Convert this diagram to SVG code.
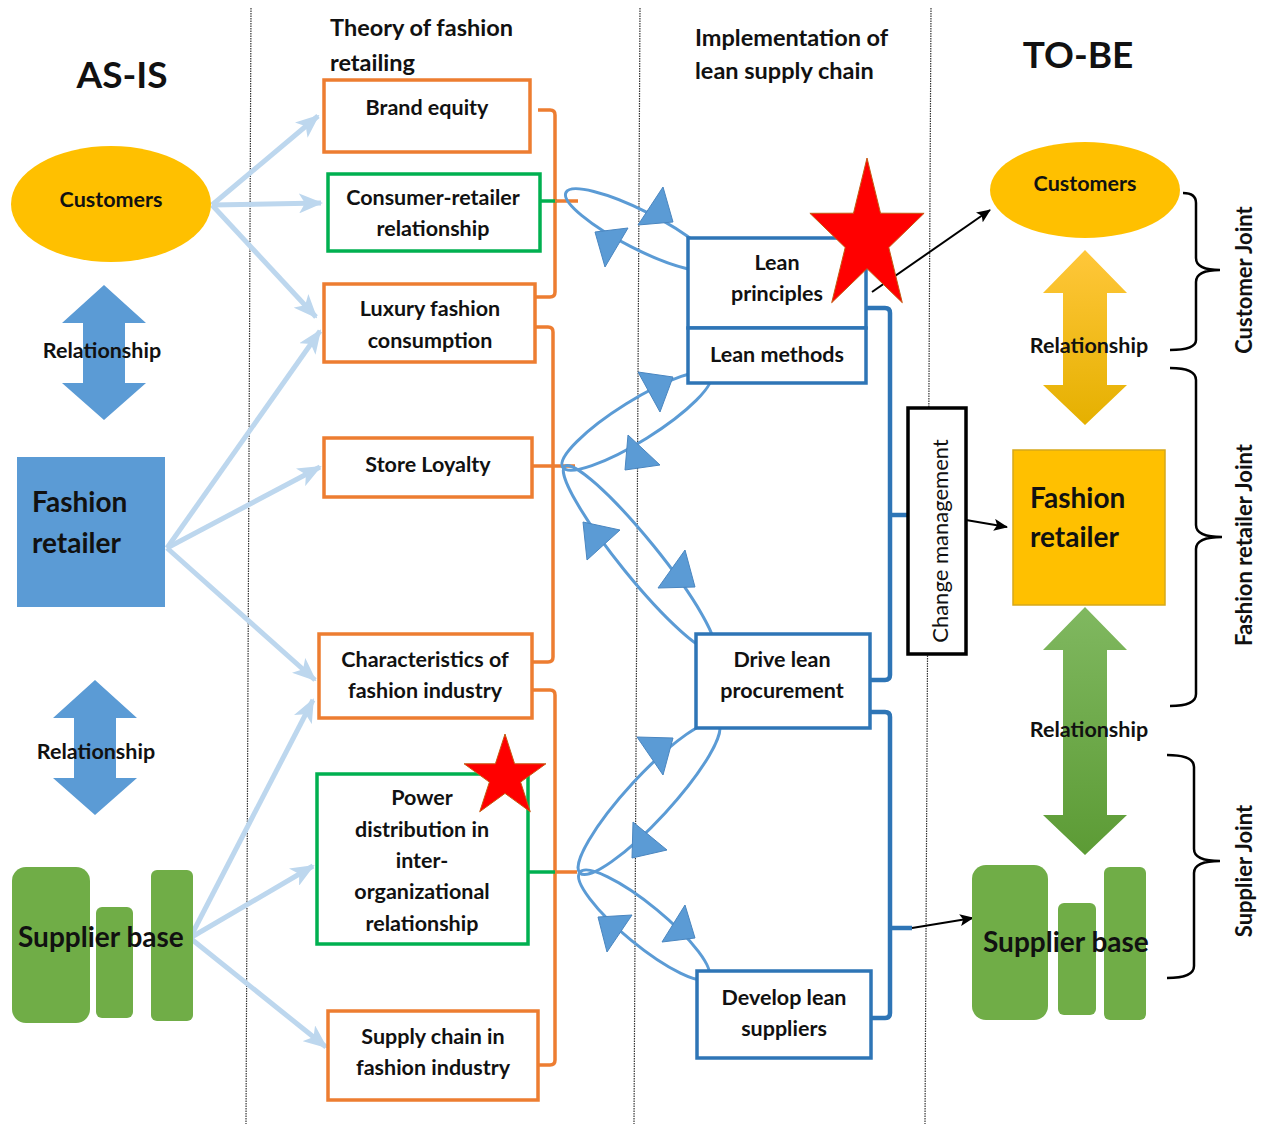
<svg xmlns="http://www.w3.org/2000/svg" width="1266" height="1124" viewBox="0 0 1266 1124">
  <style>
    text { font-family: Lato, "Liberation Sans", sans-serif; fill: #111; }
    .hdr { font-size: 23.5px; font-weight: bold; }
    .title { font-size: 37px; font-weight: bold; text-anchor: middle; }
    .lbl { font-size: 21.5px; font-weight: bold; text-anchor: middle; }
    .big { font-size: 28px; font-weight: bold; }
    .joint { font-size: 22px; font-weight: bold; text-anchor: middle; }
    .obox { fill: #fff; stroke: #ED7D31; stroke-width: 3.5; }
    .gbox { fill: #fff; stroke: #00B050; stroke-width: 3.5; }
    .bbox { fill: #fff; stroke: #2E75B6; stroke-width: 3.5; }
    .sep { stroke: #333; stroke-width: 1.2; stroke-dasharray: 1.5 1; fill: none; }
    .feed { stroke: #BDD7EE; stroke-width: 5; fill: none; marker-end: url(#lb); }
    .obr { stroke: #ED7D31; stroke-width: 3.5; fill: none; }
    .gln { stroke: #00B050; stroke-width: 3.5; fill: none; }
    .bbr { stroke: #2E75B6; stroke-width: 4.5; fill: none; }
    .loop { stroke: #5B9BD5; stroke-width: 3; fill: none; }
    .tri { fill: #5B9BD5; stroke: #4A86C0; stroke-width: 1; }
    .blk { stroke: #000; stroke-width: 2; fill: none; marker-end: url(#ba); }
    .brace { stroke: #000; stroke-width: 2.5; fill: none; }
    .star { fill: #FF0000; stroke: #C55A11; stroke-width: 1; }
    .sup { fill: #70AD47; }
  </style>
  <defs>
    <marker id="lb" markerUnits="userSpaceOnUse" markerWidth="24" markerHeight="20" viewBox="0 0 24 20" refX="22" refY="10" orient="auto">
      <path d="M0,0 L24,10 L0,20 L6,10 Z" fill="#BDD7EE"/>
    </marker>
    <marker id="ba" markerUnits="userSpaceOnUse" markerWidth="14" markerHeight="12" viewBox="0 0 14 12" refX="13" refY="6" orient="auto">
      <path d="M0,0 L14,6 L0,12 L3,6 Z" fill="#000"/>
    </marker>
    <linearGradient id="yg" x1="0" y1="0" x2="0" y2="1">
      <stop offset="0" stop-color="#FFC73A"/>
      <stop offset="1" stop-color="#E5B000"/>
    </linearGradient>
    <linearGradient id="gg" x1="0" y1="0" x2="0" y2="1">
      <stop offset="0" stop-color="#80B860"/>
      <stop offset="1" stop-color="#5C9B35"/>
    </linearGradient>
  </defs>

  <!-- column separators -->
  <g id="separators">
    <line class="sep" x1="251" y1="8" x2="246" y2="1124"/>
    <line class="sep" x1="640" y1="8" x2="634" y2="1124"/>
    <line class="sep" x1="931" y1="8" x2="925" y2="1124"/>
  </g>

  <!-- column headings -->
  <g id="headings">
    <text class="title" x="122" y="88">AS-IS</text>
    <text class="hdr" x="330" y="36">Theory of fashion</text>
    <text class="hdr" x="330" y="71">retailing</text>
    <text class="hdr" x="695" y="46">Implementation of</text>
    <text class="hdr" x="695" y="79">lean supply chain</text>
    <text class="title" x="1078" y="68">TO-BE</text>
  </g>

  <!-- connectors -->
  <g id="connectors">
    <!-- AS-IS actors feeding the theory boxes -->
    <path class="feed" d="M212,205 L318,116"/>
    <path class="feed" d="M212,205 L321,203"/>
    <path class="feed" d="M212,205 L316,317"/>
    <path class="feed" d="M167,548 L320,331"/>
    <path class="feed" d="M167,548 L320,467"/>
    <path class="feed" d="M167,548 L315,680"/>
    <path class="feed" d="M190,938 L313,700"/>
    <path class="feed" d="M190,938 L313,866"/>
    <path class="feed" d="M190,938 L326,1047"/>

    <!-- theory group brackets -->
    <path class="obr" d="M538,110 H550 Q555,110 555,115 V292 Q555,297 550,297 H536"/>
    <path class="gln" d="M540,201 H557"/>
    <path class="obr" d="M555,201 H578"/>
    <path class="obr" d="M535,327 H548 Q553,327 553,332 V657 Q553,662 548,662 H532"/>
    <path class="obr" d="M532,466 H575"/>
    <path class="obr" d="M532,690 H550 Q555,690 555,695 V1060 Q555,1065 550,1065 H538"/>
    <path class="gln" d="M528,872 H555"/>
    <path class="obr" d="M555,872 H577"/>

    <!-- lean group brackets -->
    <path class="bbr" d="M866,308 H885 Q890,308 890,313 V675 Q890,680 885,680 H870"/>
    <path class="bbr" d="M890,515 H908"/>
    <path class="bbr" d="M870,712 H885 Q890,712 890,717 V1013 Q890,1018 885,1018 H871"/>
    <path class="bbr" d="M890,928 H912"/>

    <!-- feedback loops -->
    <ellipse class="loop" cx="640" cy="230" rx="83" ry="19" transform="rotate(26.9 640 230)"/>
    <ellipse class="loop" cx="636.5" cy="421" rx="87" ry="20" transform="rotate(-32 636.5 421)"/>
    <ellipse class="loop" cx="639" cy="558" rx="118" ry="19" transform="rotate(51 639 558)"/>
    <ellipse class="loop" cx="649" cy="798" rx="102" ry="22" transform="rotate(-47.4 649 798)"/>
    <ellipse class="loop" cx="644" cy="925" rx="83" ry="20" transform="rotate(39.4 644 925)"/>
    <polygon class="tri" points="663,187 638,225 673,222"/>
    <polygon class="tri" points="595,232 628,228 605,267"/>
    <polygon class="tri" points="638,372 673,377 660,412"/>
    <polygon class="tri" points="628,435 660,465 625,470"/>
    <polygon class="tri" points="583,522 620,530 587,560"/>
    <polygon class="tri" points="685,550 658,588 695,587"/>
    <polygon class="tri" points="637,737 673,738 663,775"/>
    <polygon class="tri" points="633,822 667,850 632,858"/>
    <polygon class="tri" points="598,917 632,915 607,952"/>
    <polygon class="tri" points="685,905 662,942 695,938"/>

    <!-- links into TO-BE -->
    <path class="blk" d="M872,292 L990,210"/>
    <path class="blk" d="M966,520 L1007,527"/>
    <path class="blk" d="M912,928 L973,918"/>

    <!-- relationship arrows -->
    <path fill="#5B9BD5" d="M104,285 L146,323 L125,323 L125,383 L146,383 L104,420 L62,383 L83,383 L83,323 L62,323 Z"/>
    <path fill="#5B9BD5" d="M95,680 L137,718 L116,718 L116,778 L137,778 L95,815 L53,778 L74,778 L74,718 L53,718 Z"/>
    <path fill="url(#yg)" d="M1085,250 L1127,293 L1107,293 L1107,385 L1127,385 L1085,425 L1043,385 L1063,385 L1063,293 L1043,293 Z"/>
    <path fill="url(#gg)" d="M1085,607 L1127,650 L1107,650 L1107,815 L1127,815 L1085,855 L1043,815 L1063,815 L1063,650 L1043,650 Z"/>
    <text class="lbl" x="102" y="358">Relationship</text>
    <text class="lbl" x="96" y="759">Relationship</text>
    <text class="lbl" x="1089" y="353">Relationship</text>
    <text class="lbl" x="1089" y="737">Relationship</text>

    <!-- joint braces -->
    <path class="brace" d="M1183,193 Q1196,193 1196,203 V258 Q1196,270 1220,270 Q1196,270 1196,282 V340 Q1196,350 1170,350"/>
    <path class="brace" d="M1170,368 Q1196,368 1196,380 V525 Q1196,537 1222,537 Q1196,537 1196,549 V694 Q1196,706 1170,706"/>
    <path class="brace" d="M1167,755 Q1194,755 1194,767 V849 Q1194,861 1220,861 Q1194,861 1194,873 V966 Q1194,978 1167,978"/>
  </g>

  <!-- AS-IS actors -->
  <g id="asis-customers">
    <ellipse cx="111" cy="204" rx="100" ry="58" fill="#FFC000"/>
    <text class="lbl" x="111" y="207">Customers</text>
  </g>
  <g id="asis-retailer">
    <rect x="17" y="457" width="148" height="150" fill="#5B9BD5"/>
    <text class="big" x="32" y="512">Fashion</text>
    <text class="big" x="32" y="553">retailer</text>
  </g>
  <g id="asis-suppliers">
    <rect class="sup" x="12" y="867" width="78" height="156" rx="14"/>
    <rect class="sup" x="96" y="907" width="37" height="111" rx="6"/>
    <rect class="sup" x="151" y="870" width="42" height="151" rx="6"/>
    <text class="big" x="18" y="947">Supplier base</text>
  </g>

  <!-- theory of fashion retailing -->
  <g id="brand-equity">
    <rect class="obox" x="324" y="80" width="206" height="72"/>
    <text class="lbl" x="427" y="115">Brand equity</text>
  </g>
  <g id="consumer-retailer">
    <rect class="gbox" x="328" y="174" width="212" height="77"/>
    <text class="lbl" x="433" y="205">Consumer-retailer</text>
    <text class="lbl" x="433" y="236">relationship</text>
  </g>
  <g id="luxury-consumption">
    <rect class="obox" x="324" y="284" width="211" height="78"/>
    <text class="lbl" x="430" y="316">Luxury fashion</text>
    <text class="lbl" x="430" y="348">consumption</text>
  </g>
  <g id="store-loyalty">
    <rect class="obox" x="324" y="438" width="208" height="59"/>
    <text class="lbl" x="428" y="472">Store Loyalty</text>
  </g>
  <g id="industry-characteristics">
    <rect class="obox" x="319" y="634" width="213" height="84"/>
    <text class="lbl" x="425" y="667">Characteristics of</text>
    <text class="lbl" x="425" y="698">fashion industry</text>
  </g>
  <g id="power-distribution">
    <rect class="gbox" x="317" y="774" width="211" height="170"/>
    <text class="lbl" x="422" y="805">Power</text>
    <text class="lbl" x="422" y="837">distribution in</text>
    <text class="lbl" x="422" y="868">inter-</text>
    <text class="lbl" x="422" y="899">organizational</text>
    <text class="lbl" x="422" y="931">relationship</text>
  </g>
  <g id="fashion-supply-chain">
    <rect class="obox" x="328" y="1011" width="210" height="89"/>
    <text class="lbl" x="433" y="1044">Supply chain in</text>
    <text class="lbl" x="433" y="1075">fashion industry</text>
  </g>
  <polygon id="star-power" class="star" points="505,734 514.6,763.8 545.9,763.8 520.6,782.1 530.3,811.8 505,793.4 479.7,811.8 489.4,782.1 464.1,763.8 495.4,763.8"/>

  <!-- lean supply chain -->
  <g id="lean-principles">
    <rect class="bbox" x="688" y="238" width="178" height="90"/>
    <text class="lbl" x="777" y="270">Lean</text>
    <text class="lbl" x="777" y="301">principles</text>
  </g>
  <g id="lean-methods">
    <rect class="bbox" x="688" y="328" width="178" height="55"/>
    <text class="lbl" x="777" y="362">Lean methods</text>
  </g>
  <g id="drive-procurement">
    <rect class="bbox" x="696" y="634" width="174" height="94"/>
    <text class="lbl" x="782" y="667">Drive lean</text>
    <text class="lbl" x="782" y="698">procurement</text>
  </g>
  <g id="develop-suppliers">
    <rect class="bbox" x="697" y="971" width="174" height="87"/>
    <text class="lbl" x="784" y="1005">Develop lean</text>
    <text class="lbl" x="784" y="1036">suppliers</text>
  </g>
  <polygon id="star-lean" class="star" points="867,158 880.5,213.2 924.1,213.3 888.8,247.5 902.3,302.7 867,268.6 831.7,302.7 845.2,247.5 809.9,213.3 853.5,213.2"/>

  <!-- change management -->
  <g id="change-management">
    <rect x="908" y="408" width="58" height="246" fill="#fff" stroke="#000" stroke-width="3.5"/>
    <text x="948" y="541" font-size="22" text-anchor="middle" transform="rotate(-90 948 541)">Change management</text>
  </g>

  <!-- TO-BE actors -->
  <g id="tobe-customers">
    <ellipse cx="1085" cy="190" rx="95" ry="48" fill="#FFC000"/>
    <text class="lbl" x="1085" y="191">Customers</text>
  </g>
  <g id="tobe-retailer">
    <rect x="1013" y="450" width="152" height="155" fill="#FFC000" stroke="#D6A81A" stroke-width="1.5"/>
    <text class="big" x="1030" y="508">Fashion</text>
    <text class="big" x="1030" y="547">retailer</text>
  </g>
  <g id="tobe-suppliers">
    <rect class="sup" x="972" y="865" width="76" height="155" rx="14"/>
    <rect class="sup" x="1058" y="903" width="38" height="112" rx="6"/>
    <rect class="sup" x="1104" y="867" width="42" height="153" rx="6"/>
    <text class="big" x="983" y="952">Supplier base</text>
  </g>

  <!-- joint labels -->
  <g id="joint-labels">
    <text class="joint" x="1252" y="280" transform="rotate(-90 1252 280)">Customer Joint</text>
    <text class="joint" x="1252" y="545" transform="rotate(-90 1252 545)">Fashion retailer Joint</text>
    <text class="joint" x="1252" y="871" transform="rotate(-90 1252 871)">Supplier Joint</text>
  </g>
</svg>
